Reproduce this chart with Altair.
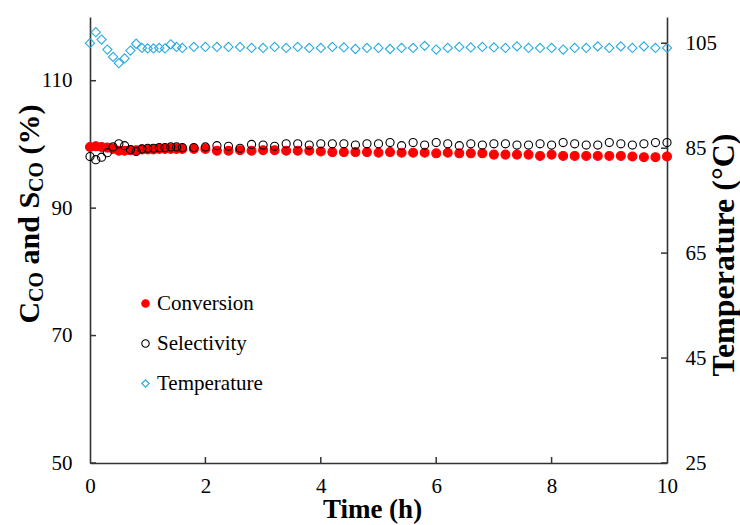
import altair as alt
import pandas as pd

# ---------------- data ----------------
time_h = [0.0, 0.1, 0.2, 0.3, 0.4, 0.5, 0.6, 0.7, 0.8, 0.9, 1.0, 1.1, 1.2, 1.3, 1.4, 1.5, 1.6,
          1.8, 2.0, 2.2, 2.4, 2.6, 2.8, 3.0, 3.2, 3.4, 3.6, 3.8, 4.0, 4.2, 4.4, 4.6, 4.8, 5.0,
          5.2, 5.4, 5.6, 5.8, 6.0, 6.2, 6.4, 6.6, 6.8, 7.0, 7.2, 7.4, 7.6, 7.8, 8.0, 8.2, 8.4,
          8.6, 8.8, 9.0, 9.2, 9.4, 9.6, 9.8, 10.0]

conversion = [99.6, 99.7, 99.6, 99.5, 99.3, 99.0, 99.0, 99.1, 99.1, 99.2, 99.2, 99.2, 99.3, 99.3, 99.3, 99.3, 99.3,
              99.3, 99.3, 99.0, 99.0, 99.1, 99.0, 99.1, 99.1, 99.0, 99.0, 99.0, 98.9, 98.8, 98.8, 98.8, 98.8, 98.7,
              98.8, 98.7, 98.7, 98.7, 98.6, 98.7, 98.6, 98.6, 98.6, 98.4, 98.4, 98.4, 98.4, 98.2, 98.4, 98.2, 98.2,
              98.2, 98.2, 98.2, 98.2, 98.1, 98.0, 98.0, 98.1]

selectivity = [98.1, 97.6, 98.0, 98.7, 99.6, 100.1, 99.8, 99.2, 98.9, 99.3, 99.4, 99.4, 99.5, 99.5, 99.6, 99.6, 99.5,
               99.5, 99.6, 99.8, 99.7, 99.4, 100.0, 99.9, 99.7, 100.1, 100.1, 99.9, 100.1, 100.1, 100.1, 99.9, 100.1, 100.1,
               100.3, 99.8, 100.3, 99.9, 100.3, 100.1, 99.8, 100.1, 99.9, 100.1, 100.1, 99.9, 99.9, 100.1, 99.9, 100.3, 100.1,
               99.9, 99.9, 100.3, 100.1, 99.9, 100.1, 100.3, 100.3]

temperature = [105.0, 107.1, 105.7, 103.8, 102.4, 101.2, 102.1, 103.6, 104.9, 104.1, 104.0, 104.0, 104.1, 104.0, 104.8, 104.3, 104.1,
               104.3, 104.3, 104.3, 104.3, 104.3, 104.1, 104.1, 104.3, 104.1, 104.3, 104.1, 104.1, 104.3, 104.2, 103.9, 104.1, 104.1,
               103.9, 104.1, 104.1, 104.5, 103.8, 104.1, 104.3, 104.2, 104.3, 104.2, 104.1, 104.4, 104.1, 104.1, 104.1, 103.8, 104.1,
               104.1, 104.4, 104.1, 104.4, 104.1, 104.4, 104.1, 104.1]

series_names = ["Conversion", "Selectivity", "Temperature"]
x_ticks = [0, 2, 4, 6, 8, 10]
left_ticks = [50, 70, 90, 110]
right_ticks = [25, 45, 65, 85, 105]

df = pd.DataFrame({"t": time_h, "Conversion": conversion,
                   "Selectivity": selectivity, "Temperature": temperature})

# ---------------- layout / style ----------------
W, H = 577, 446
FONT = "Liberation Serif"
TICK_LEN = 6
RED, BLACK, CYAN = "#FF0000", "#000000", "#27AAE1"

x_scale = alt.Scale(domain=[0, 10], nice=False, zero=False)
yl_scale = alt.Scale(domain=[50, 120], nice=False, zero=False)
yr_scale = alt.Scale(domain=[25, 110], nice=False, zero=False)

legend_spec = alt.Legend(title=None, orient="none", legendX=45, legendY=276, padding=0, rowPadding=18,
                         labelFont=FONT, labelFontSize=21, labelColor="black", symbolSize=55,
                         symbolStrokeWidth=1.1, labelOffset=1, labelLimit=300)
stroke_enc = alt.Stroke("series:N", scale=alt.Scale(domain=series_names, range=[RED, BLACK, CYAN]),
                        legend=legend_spec)
fill_enc = alt.Fill("series:N", scale=alt.Scale(domain=series_names, range=[RED, "transparent", "transparent"]),
                    legend=legend_spec)
shape_enc = alt.Shape("series:N", scale=alt.Scale(domain=series_names, range=["circle", "circle", "diamond"]),
                      legend=legend_spec)

x_enc = alt.X("t:Q", scale=x_scale,
              axis=alt.Axis(values=x_ticks, format="d", labelFlush=False, title="Time (h)",
                            titleFontSize=27, titleFontWeight="bold", titleFont=FONT,
                            titlePadding=0, titleX=282, labelPadding=12))

base = alt.Chart(df)


def pts(col, size, y_field_scale, axis):
    return base.transform_fold([col], as_=["series", "val"]).mark_point(
        strokeWidth=1.1, opacity=1, size=size).encode(
        x=x_enc,
        y=alt.Y("val:Q", scale=y_field_scale, axis=axis),
        stroke=stroke_enc, fill=fill_enc, shape=shape_enc,
    )


left_axis = alt.Axis(values=left_ticks, title=None, orient="left", labelPadding=18)
right_axis = alt.Axis(values=right_ticks, title=None, orient="right", labelPadding=18)

conv_pts = pts("Conversion", 80, yl_scale, left_axis)
sel_pts = pts("Selectivity", 66, yl_scale, left_axis)

left_tick_df = pd.DataFrame({"val": left_ticks})
left_tick_rules = alt.Chart(left_tick_df).mark_rule(color="#333333", strokeWidth=1.5).encode(
    y=alt.Y("val:Q", scale=yl_scale, axis=left_axis), x=alt.value(0), x2=alt.value(TICK_LEN))

left_layer = alt.layer(conv_pts, sel_pts, left_tick_rules)

temp_pts = pts("Temperature", 85, yr_scale, right_axis)

right_tick_df = pd.DataFrame({"val": right_ticks})
right_tick_rules = alt.Chart(right_tick_df).mark_rule(color="#333333", strokeWidth=1.5).encode(
    y=alt.Y("val:Q", scale=yr_scale, axis=right_axis), x=alt.value(W - TICK_LEN), x2=alt.value(W))

right_layer = alt.layer(temp_pts, right_tick_rules)

bottom_tick_df = pd.DataFrame({"t": x_ticks[1:-1]})
bottom_tick_rules = alt.Chart(bottom_tick_df).mark_rule(color="#333333", strokeWidth=1.5).encode(
    x=alt.X("t:Q", scale=x_scale), y=alt.value(H - TICK_LEN), y2=alt.value(H))

# ---------------- axis titles drawn as text (subscripts) ----------------
one = alt.Data(values=[{"k": 1}])
F_MAIN, F_SUB = 30, 20
# Times Bold advance widths (em)
em = {"C": 0.722, "O": 0.778, " ": 0.25, "a": 0.5, "n": 0.556, "d": 0.556, "S": 0.556,
      "(": 0.333, "%": 1.0, ")": 0.333}
segments = [("C", F_MAIN, 0), ("CO", F_SUB, 7), (" and S", F_MAIN, 0), ("CO", F_SUB, 7), (" (%)", F_MAIN, 0)]
seg_len = [sum(em[c] for c in s) * f for s, f, _ in segments]
total = sum(seg_len)
center_y = 197
title_x = -60
y_cursor = center_y + total / 2
left_title_marks = []
for (s, f, dx), L in zip(segments, seg_len):
    lead = (len(s) - len(s.lstrip(" "))) * em[" "] * f
    left_title_marks.append(
        alt.Chart(one).mark_text(text=s.strip(" "), font=FONT, fontSize=f, fontWeight="bold", angle=270,
                                 align="left", baseline="middle", color="black").encode(
            x=alt.value(title_x + dx), y=alt.value(y_cursor - lead)))
    y_cursor -= L

right_title = alt.Chart(one).mark_text(text="Temperature (°C)", font=FONT, fontSize=32, fontWeight="bold",
                                       angle=270, align="center", baseline="middle", color="black").encode(
    x=alt.value(634), y=alt.value(238))

chart = alt.layer(left_layer, right_layer, bottom_tick_rules, right_title, *left_title_marks).resolve_scale(
    y="independent").properties(
    width=W, height=H,
    padding={"left": 90, "top": 17, "right": 73, "bottom": 62},
    autosize=alt.AutoSizeParams(type="none"),
).configure_view(stroke=None).configure_axis(
    grid=False, ticks=False, domainColor="#333333", domainWidth=1.6,
    labelFont=FONT, labelFontSize=21, labelColor="black", titleColor="black",
)

chart.save("out.html", embed_options={"renderer": "svg", "actions": False})
